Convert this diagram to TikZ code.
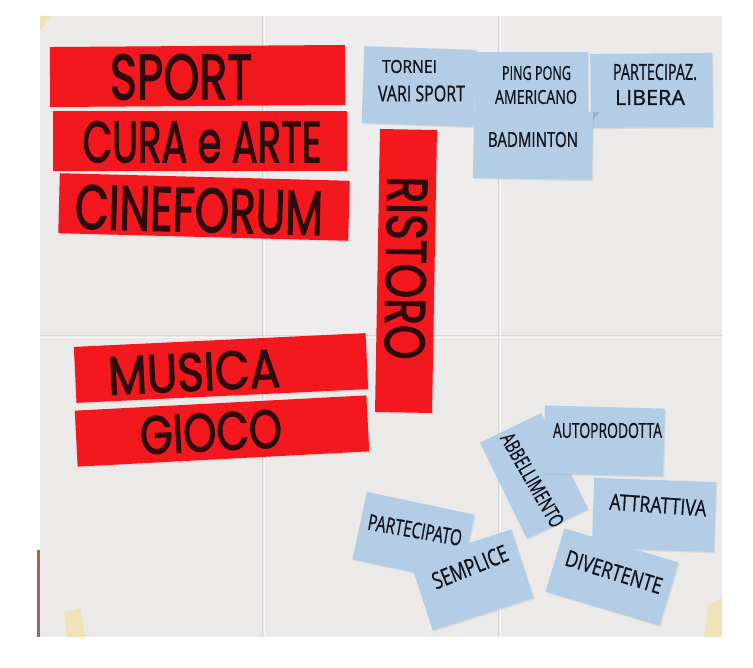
\documentclass[tikz,border=0pt]{standalone}
\usepackage{fontspec}
\usepackage{graphicx}
\setmainfont{Poppins}
\newfontfamily\stripfont{Poppins}[FakeBold=2.2]
\newfontfamily\notefont{Open Sans}[FakeBold=0.8]
\usetikzlibrary{shadows}

\definecolor{paper}{RGB}{236,233,233}
\definecolor{paperlight}{RGB}{243,241,241}
\definecolor{crease}{RGB}{216,211,211}
\definecolor{stripred}{RGB}{242,24,30}
\definecolor{stripink}{RGB}{44,10,14}
\definecolor{noteblue}{RGB}{180,205,231}
\definecolor{notefold}{RGB}{150,178,208}
\definecolor{noteink}{RGB}{14,16,26}
\definecolor{tape}{RGB}{238,226,182}
\definecolor{easel}{RGB}{150,110,88}

% squeeze a word into a given width and cap height
\newcommand\fitword[3]{\resizebox{#1pt}{#2pt}{#3}}

\tikzset{
  strip/.style={fill=stripred, inner sep=0pt,
    drop shadow={shadow xshift=1.5pt, shadow yshift=-1.5pt, opacity=0.15}},
  note/.style={fill=noteblue, inner sep=0pt,
    drop shadow={shadow xshift=1.2pt, shadow yshift=-1.2pt, opacity=0.15}},
  stripword/.style={text=stripink, inner sep=0pt, font=\stripfont},
  noteword/.style={text=noteink, inner sep=0pt, font=\notefont},
  creaseline/.style={draw=crease, line width=0.8pt},
}

\begin{document}
\begin{tikzpicture}[x=1pt, y=-1pt]
\useasboundingbox (0,0) rectangle (753,668);
\fill[white] (0,0) rectangle (753,668);

% easel edge showing behind the sheet
\fill[easel] (37,550) rectangle (43,637);
\fill[easel!80!black, opacity=0.6] (470,632) rectangle (545,637);

% the folded paper sheet
\fill[paper] (40,16) -- (722,16) -- (722,637) -- (40,637) -- cycle;
\fill[paperlight, opacity=0.4] (262,16) rectangle (498,335);
\fill[tape] (40,16) -- (52,16) -- (40,30) -- cycle;
\fill[tape] (64,612) -- (80,608) -- (85,637) -- (67,637) -- cycle;
\fill[tape] (708,605) -- (722,598) -- (722,637) -- (704,637) -- cycle;

% fold creases
\draw[creaseline] (262,16) -- (262,637);
\draw[creaseline] (498,16) -- (498,637);
\draw[creaseline] (40,335) -- (722,335);
\draw[white, line width=0.8pt, opacity=0.7] (264,16) -- (264,637);
\draw[white, line width=0.8pt, opacity=0.7] (500,16) -- (500,637);
\draw[white, line width=0.8pt, opacity=0.7] (40,337) -- (722,337);

% red topic strips
\node[strip, minimum width=295pt, minimum height=60pt, rotate=0.4] (sport) at (197.5,76) {};
\node[strip, minimum width=294pt, minimum height=60pt] (cura) at (200,141) {};
\node[strip, minimum width=290pt, minimum height=60pt, rotate=-1.5] (cine) at (204,207) {};
\node[strip, minimum width=292pt, minimum height=56pt, rotate=2.7] (musica) at (221,368) {};
\node[strip, minimum width=292pt, minimum height=56pt, rotate=3] (gioco) at (222,431) {};
\node[strip, minimum width=283pt, minimum height=57pt, rotate=-91] (ristoro) at (406,271) {};

\node[stripword] (sportT) at (181,77) {\fitword{142}{45}{SPORT}};
\node[stripword] (curaT) at (202,142) {\fitword{239}{41}{CURA e ARTE}};
\node[stripword, rotate=-1.5] (cineT) at (199,210) {\fitword{248}{44}{CINEFORUM}};
\node[stripword, rotate=2.7] (musicaT) at (194,372) {\fitword{172}{38}{MUSICA}};
\node[stripword, rotate=3] (giocoT) at (211,432) {\fitword{142}{38}{GIOCO}};
\node[stripword, rotate=-91] (ristoroT) at (406,268) {\fitword{183}{40}{RISTORO}};

% blue notes next to SPORT
\node[note, minimum width=112pt, minimum height=77pt, rotate=-2] (tornei) at (419,86.5) {};
\node[note, minimum width=113pt, minimum height=76pt] (ping) at (531.5,90) {};
\node[note, minimum width=122pt, minimum height=74pt, rotate=0.5] (libera) at (651.5,90.5) {};
\fill[notefold] (588,112) -- (600,112) -- (592,121) -- cycle;
\node[note, minimum width=119pt, minimum height=68pt, rotate=-1] (badminton) at (533,145) {};

\node[noteword] (torneiA) at (409.5,66.5) {\fitword{55}{13}{TORNEI}};
\node[noteword] (torneiB) at (421.5,93.5) {\fitword{87}{16}{VARI SPORT}};
\node[noteword] (pingA) at (536.5,73) {\fitword{69}{14}{PING PONG}};
\node[noteword] (pingB) at (536,97) {\fitword{82}{14}{AMERICANO}};
\node[noteword] (liberaA) at (655,72) {\fitword{84}{16}{PARTECIPAZ.}};
\node[noteword] (liberaB) at (650,97.5) {\fitword{70}{15}{LIBERA}};
\node[noteword] (badmintonT) at (533,139.5) {\fitword{90}{15}{BADMINTON}};

% blue notes of the lower cluster
\node[note, minimum width=107pt, minimum height=68pt, rotate=-64] (abbell) at (534,476) {};
\node[note, minimum width=120pt, minimum height=68pt, rotate=-1.5] (autoprod) at (604,441) {};
\node[note, minimum width=122pt, minimum height=70pt, rotate=-2] (attrattiva) at (654,515) {};
\node[note, minimum width=119pt, minimum height=66pt, rotate=-16.6] (divertente) at (612,577) {};
\node[note, minimum width=110pt, minimum height=69pt, rotate=-12] (partecipato) at (413.5,537) {};
\node[note, minimum width=106pt, minimum height=72pt, rotate=18] (semplice) at (472,580) {};

\node[noteword, rotate=-60] (abbellT) at (532.5,480) {\fitword{105}{15}{ABBELLIMENTO}};
\node[noteword] (autoprodT) at (607.5,430.5) {\fitword{109}{15}{AUTOPRODOTTA}};
\node[noteword, rotate=-4] (attrattivaT) at (658,505) {\fitword{97}{16}{ATTRATTIVA}};
\node[noteword, rotate=-17] (divertenteT) at (614,572) {\fitword{100}{16}{DIVERTENTE}};
\node[noteword, rotate=-10] (partecipatoT) at (415,530) {\fitword{95}{16}{PARTECIPATO}};
\node[noteword, rotate=22] (sempliceT) at (470,567) {\fitword{80}{17}{SEMPLICE}};
\end{tikzpicture}
\end{document}
